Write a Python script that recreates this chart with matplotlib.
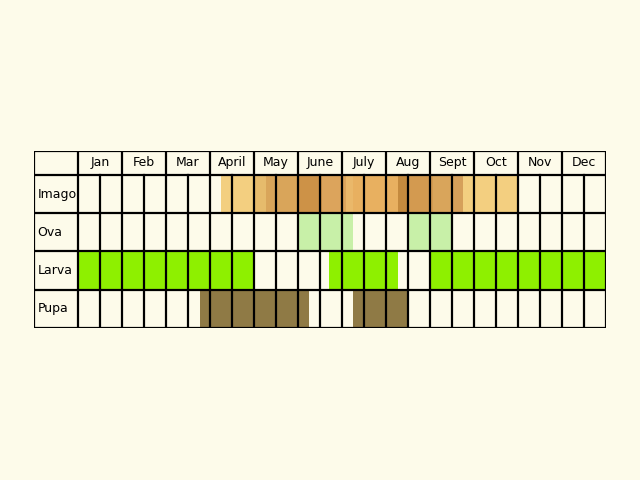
import matplotlib
matplotlib.use("Agg")
import matplotlib.pyplot as plt
from matplotlib.patches import Rectangle

months = ["Jan","Feb","Mar","April","May","June","July","Aug","Sept","Oct","Nov","Dec"]
stages = ["Imago","Ova","Larva","Pupa"]
# (start month, end month, colour) in month units, 0 = start of Jan
imago = [(3.25,4.02,"#f3cf80"),(4.02,4.27,"#e6bb6c"),(4.27,5.02,"#d9a55a"),(5.02,5.55,"#cd9247"),
         (5.55,6.09,"#dca45c"),(6.09,6.25,"#eab86a"),(6.25,7.27,"#e8b060"),(7.27,7.52,"#c48a3e"),
         (7.52,8.07,"#d39a50"),(8.07,8.55,"#d9a55b"),(8.55,8.75,"#d6a05a"),(8.75,10.02,"#f3cf80")]
ova = [(5.0,6.25,"#c8f0a8"),(7.52,8.48,"#c8f0a8")]
larva = [(0,4.0,"#8ef000"),(5.7,7.27,"#8ef000"),(8.0,12.0,"#8ef000")]
pupa = [(2.77,5.25,"#8f7a45"),(6.25,7.5,"#8f7a45")]
periods = [imago, ova, larva, pupa]

bg = "#fdfbea"
fig = plt.figure(figsize=(6.4,4.8), dpi=100, facecolor=bg)
ax = fig.add_axes([34/640, (480-328)/480, (606-34)/640, (328-151)/480])
ax.set_facecolor(bg)
hh = 24/38.5
ax.set_xlim(-1,12); ax.set_ylim(0,4+hh)
ax.axis("off")

for i,(st,segs) in enumerate(zip(stages,periods)):
    y0 = 3-i
    for a,b,c in segs:
        ax.add_patch(Rectangle((a,y0),b-a,1,facecolor=c,edgecolor="none",zorder=1))
    ax.text(-0.92,y0+0.5,st,ha="left",va="center",fontsize=9,zorder=3)
for j,m in enumerate(months):
    ax.text(j+0.5,4+hh/2,m,ha="center",va="center",fontsize=9,zorder=3)

lw=1.6
for j in range(13):
    ax.plot([j,j],[0,4+hh],color="black",lw=lw,zorder=2,solid_capstyle="projecting")
ax.plot([-1,-1],[0,4+hh],color="black",lw=lw,zorder=2)
for j in range(12):
    ax.plot([j+0.5,j+0.5],[0,4],color="black",lw=lw,zorder=2)
for y in [0,1,2,3,4,4+hh]:
    ax.plot([-1,12],[y,y],color="black",lw=lw,zorder=2,solid_capstyle="projecting")

fig.savefig("out.png", dpi=100, facecolor=bg)
